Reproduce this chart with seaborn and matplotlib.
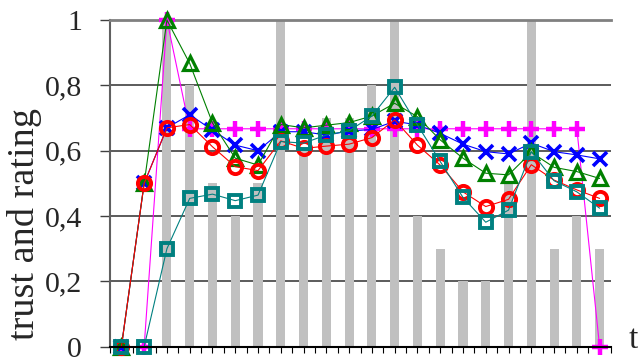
import matplotlib
matplotlib.use("Agg")
import matplotlib.pyplot as plt
import seaborn as sns
import numpy as np

# time steps
t = list(range(22))

# grey bars: observed rating per step
rating = [0, 0, 1.0, 0.8, 0.5, 0.4, 0.5, 1.0, 0.6, 0.7, 0.7,
          0.8, 1.0, 0.4, 0.3, 0.2, 0.2, 0.5, 1.0, 0.3, 0.4, 0.3]

# trust estimates of the five models
trust_blue = [0, 0.5, 0.67, 0.71, 0.663, 0.617, 0.6, 0.658, 0.658, 0.648, 0.66,
              0.665, 0.69, 0.679, 0.653, 0.62, 0.597, 0.59, 0.623, 0.597, 0.587, 0.575]
trust_green = [0, 0.5, 1.0, 0.867, 0.685, 0.577, 0.556, 0.68, 0.67, 0.678, 0.686,
               0.706, 0.745, 0.704, 0.633, 0.577, 0.531, 0.526, 0.595, 0.549, 0.536, 0.515]
trust_red = [0, 0.5, 0.67, 0.68, 0.612, 0.551, 0.539, 0.63, 0.607, 0.614, 0.62,
             0.64, 0.694, 0.617, 0.556, 0.474, 0.429, 0.451, 0.557, 0.51, 0.48, 0.454]
trust_teal = [0, 0, 0.3, 0.454, 0.467, 0.447, 0.464, 0.628, 0.623, 0.648, 0.661,
              0.706, 0.794, 0.679, 0.567, 0.457, 0.381, 0.418, 0.597, 0.508, 0.474, 0.424]
trust_magenta = [0, 0, 1.0, 0.667, 0.667, 0.667, 0.667, 0.667, 0.667, 0.667, 0.667,
                 0.667, 0.667, 0.667, 0.667, 0.667, 0.667, 0.667, 0.667, 0.667, 0.667, 0]

ytick_vals = [0, 0.2, 0.4, 0.6, 0.8, 1.0]
ytick_labels = ["0", "0,2", "0,4", "0,6", "0,8", "1"]

sns.set_style("white")
plt.rcParams["font.family"] = ["Liberation Serif", "DejaVu Serif"]

fig = plt.figure(figsize=(6.38, 3.6), dpi=100)
ax = fig.add_axes([110 / 638, 13.3 / 360, 501 / 638, 326.7 / 360])

sns.barplot(x=t, y=rating, native_scale=True, width=0.4, color="#C0C0C0",
            saturation=1, edgecolor="none", linewidth=0, ax=ax, zorder=1)

series = [
    (trust_magenta, "#FF00FF", "+", dict(markersize=12, markeredgewidth=3.2)),
    (trust_blue, "#0000FF", "x", dict(markersize=10.5, markeredgewidth=2.6)),
    (trust_green, "#008000", "^", dict(markersize=10.5, markeredgewidth=2.3, markerfacecolor="none")),
    (trust_red, "#FF0000", "o", dict(markersize=9.5, markeredgewidth=2.8, markerfacecolor="none")),
    (trust_teal, "#008080", "s", dict(markersize=8.5, markeredgewidth=2.8, markerfacecolor="none")),
]
for i, (vals, col, mk, kw) in enumerate(series):
    sns.lineplot(x=t, y=vals, color=col, marker=mk, linewidth=0.8,
                 markeredgecolor=col, ax=ax, zorder=3 + i, clip_on=False, **kw)

ax.set_xlim(-0.5, 21.5)
ax.set_ylim(0, 1)
ax.set_xticks(np.arange(-0.5, 21.51, 0.5))
ax.set_xticklabels([])
ax.set_yticks(ytick_vals)
ax.set_yticklabels(ytick_labels, fontsize=21.5)
ax.tick_params(axis="y", direction="out", length=7.2, width=1, color="#404040", pad=13, left=True)
ax.tick_params(axis="x", direction="out", length=4, width=0.8, color="black", bottom=True)

ax.grid(axis="y", color="#404040", linewidth=1.2)
ax.grid(axis="x", visible=False)
ax.set_axisbelow(True)

ax.spines["right"].set_visible(False)
ax.spines["top"].set_color("#808080")
ax.spines["top"].set_linewidth(2)
ax.spines["left"].set_color("#606060")
ax.spines["left"].set_linewidth(1.5)
ax.spines["bottom"].set_color("black")
ax.spines["bottom"].set_linewidth(1.5)
ax.spines["bottom"].set_zorder(10)

ax.set_ylabel("")
ax.set_xlabel("")
fig.text(25 / 638, 1 - 224 / 360, "trust and rating", rotation=90, fontsize=27.5,
         ha="center", va="center")
fig.text(633 / 638, 1 - 340 / 360, "t", fontsize=24, ha="center", va="center")

fig.savefig("out.png", dpi=100)
